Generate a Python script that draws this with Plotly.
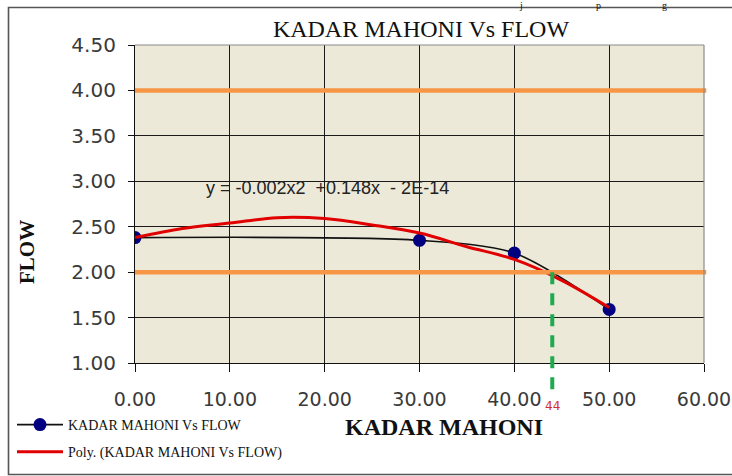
import plotly.graph_objects as go

# Data
kadar = [0, 30, 40, 50]
flow = [2.38, 2.35, 2.21, 1.59]

trend_x = [0, 5, 10, 15, 20, 25, 30, 35, 40, 45, 50]
trend_y = [2.38, 2.48, 2.54, 2.60, 2.59, 2.52, 2.43, 2.28, 2.14, 1.91, 1.61]

limit_lines = [4.0, 2.0]
threshold_x = 44
threshold_label = "44"

x_ticks = [0, 10, 20, 30, 40, 50, 60]
y_ticks = [1.0, 1.5, 2.0, 2.5, 3.0, 3.5, 4.0, 4.5]
equation = "y = -0.002x2  +0.148x  - 2E-14"

X_RANGE = [0, 60]
Y_RANGE = [1.0, 4.5]

W, H = 732, 476
ML, MR, MT, MB = 135, 28, 45, 113
PW, PH = W - ML - MR, H - MT - MB


def px_x(px):
    return (px - ML) / PW


def px_y(py):
    return 1 - (py - MT) / PH


SERIF = "Liberation Serif, Times New Roman, serif"
SANS = "DejaVu Sans, Verdana, sans-serif"

fig = go.Figure()

fig.add_trace(go.Scatter(
    x=kadar, y=flow, mode="lines+markers", name="KADAR MAHONI Vs FLOW",
    line=dict(color="#111111", width=1.6, shape="spline", smoothing=0.8),
    marker=dict(color="#000080", size=13),
    legendgroup="a",
))
fig.add_trace(go.Scatter(
    x=trend_x, y=trend_y, mode="lines", name="Poly. (KADAR MAHONI Vs FLOW)",
    line=dict(color="#E00000", width=3, shape="spline", smoothing=1.0),
    legendgroup="b",
))

shapes = []
for yv in limit_lines:
    shapes.append(dict(type="line", xref="paper", yref="y", x0=0, x1=1.004, y0=yv, y1=yv,
                       line=dict(color="#F79646", width=4.5), layer="above"))
# top and right plot borders (gray)
shapes.append(dict(type="line", xref="paper", yref="paper", x0=0, x1=1, y0=1, y1=1,
                   line=dict(color="#8a8a8a", width=1.2), layer="above"))
shapes.append(dict(type="line", xref="paper", yref="paper", x0=1, x1=1, y0=0, y1=1,
                   line=dict(color="#8a8a8a", width=1.2), layer="above"))
# green threshold dashed line
tx_paper = (threshold_x - X_RANGE[0]) / (X_RANGE[1] - X_RANGE[0])
ty_paper = (limit_lines[1] - Y_RANGE[0]) / (Y_RANGE[1] - Y_RANGE[0])
shapes.append(dict(type="line", xref="paper", yref="paper", x0=tx_paper, x1=tx_paper,
                   y0=ty_paper, y1=px_y(393),
                   line=dict(color="#1FAA50", width=4, dash="12px,9px"), layer="above"))
# outer chart frame
shapes.append(dict(type="rect", xref="paper", yref="paper", x0=px_x(8.5), x1=px_x(745),
                   y0=px_y(474.5), y1=px_y(7.5),
                   line=dict(color="#555555", width=1.6), layer="below"))

annotations = [
    dict(text=equation, x=7.3, y=2.93, xref="x", yref="y", xanchor="left", yanchor="middle",
         showarrow=False, font=dict(family="Liberation Sans, Arial, sans-serif", size=18, color="#222222")),
    dict(text=threshold_label, x=tx_paper, y=px_y(406), xref="paper", yref="paper", xanchor="center",
         yanchor="middle", showarrow=False, font=dict(family=SANS, size=12, color="#D03030")),
    dict(text="<b>KADAR MAHONI</b>", x=px_x(444), y=px_y(427), xref="paper", yref="paper",
         xanchor="center", yanchor="middle", showarrow=False,
         font=dict(family=SERIF, size=24, color="#111111")),
    dict(text="<b>FLOW</b>", x=px_x(27), y=px_y(252), xref="paper", yref="paper",
         xanchor="center", yanchor="middle", showarrow=False, textangle=-90,
         font=dict(family=SERIF, size=21, color="#111111")),
]
for ch, px in [("j", 521), ("p", 598), ("g", 664)]:
    annotations.append(dict(text=ch, x=px_x(px), y=px_y(5), xref="paper", yref="paper",
                            xanchor="center", yanchor="middle", showarrow=False, borderpad=0,
                            font=dict(family=SERIF, size=10, color="#111111")))

fig.update_layout(
    width=W, height=H,
    margin=dict(l=ML, r=MR, t=MT, b=MB, autoexpand=False),
    paper_bgcolor="white",
    plot_bgcolor="#ECE9D8",
    title=dict(text="KADAR MAHONI Vs FLOW", x=421 / W, xanchor="center", xref="container",
               y=1 - 29 / H, yanchor="middle", yref="container",
               font=dict(family=SERIF, size=24, color="#111111")),
    showlegend=True,
    legend=dict(x=px_x(12), y=px_y(409), xanchor="left", yanchor="top", tracegroupgap=6,
                itemwidth=46,
                font=dict(family=SERIF, size=14, color="#111111"), bgcolor="rgba(0,0,0,0)"),
    shapes=shapes,
    annotations=annotations,
    xaxis=dict(range=X_RANGE, tickvals=x_ticks, ticktext=[f"{v:.2f}" for v in x_ticks],
               showgrid=True, gridcolor="#1a1a1a", gridwidth=1,
               showline=True, linecolor="#111111", linewidth=1.2,
               ticks="outside", ticklen=8, tickcolor="#111111", ticklabelstandoff=11,
               zeroline=False, tickfont=dict(family=SANS, size=19, color="#3a3a3a")),
    yaxis=dict(range=Y_RANGE, tickvals=y_ticks, ticktext=[f"{v:.2f}" for v in y_ticks],
               showgrid=True, gridcolor="#1a1a1a", gridwidth=1,
               showline=True, linecolor="#111111", linewidth=1.2,
               ticks="outside", ticklen=6, tickcolor="#111111", ticklabelstandoff=8,
               zeroline=False, tickfont=dict(family=SANS, size=20, color="#3a3a3a")),
)

fig.write_html("out.html", config={"displayModeBar": False},
               post_script="document.body.style.margin='0px';document.body.style.overflow='hidden';")
